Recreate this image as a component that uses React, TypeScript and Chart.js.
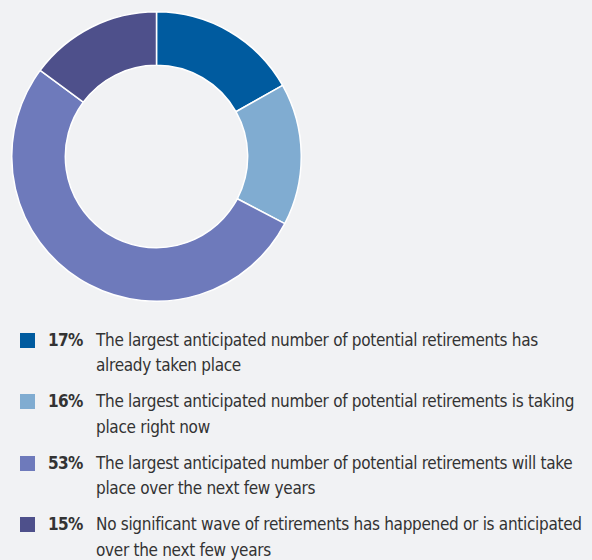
import React, { useEffect, useRef } from "react";
import { Chart, registerables } from "chart.js";

Chart.register(...registerables);

const categoryLines = [
  ["The largest anticipated number of potential retirements has", "already taken place"],
  ["The largest anticipated number of potential retirements is taking", "place right now"],
  ["The largest anticipated number of potential retirements will take", "place over the next few years"],
  ["No significant wave of retirements has happened or is anticipated", "over the next few years"],
];
const categories = categoryLines.map((l) => l.join(" "));
const values = [17, 16, 53, 15];
const percentLabels = ["17%", "16%", "53%", "15%"];
const colors = ["#005b9f", "#80acd1", "#6e7abb", "#4e508b"];

const FONT = '"DejaVu Sans Condensed", "DejaVu Sans", sans-serif';

export default function App() {
  const canvasRef = useRef<HTMLCanvasElement | null>(null);

  useEffect(() => {
    if (!canvasRef.current) return;
    const chart = new Chart(canvasRef.current, {
      type: "doughnut",
      data: {
        labels: categories,
        datasets: [
          {
            data: values,
            backgroundColor: colors,
            borderColor: "#ffffff",
            borderWidth: 1.5,
            hoverOffset: 0,
          },
        ],
      },
      options: {
        responsive: false,
        maintainAspectRatio: false,
        animation: false,
        cutout: "63%",
        layout: { padding: 0 },
        plugins: {
          legend: { display: false },
          tooltip: { enabled: false },
          title: { display: false },
        },
      },
    });
    return () => chart.destroy();
  }, []);

  return (
    <div
      style={{
        position: "fixed",
        left: 0,
        top: 0,
        width: 592,
        height: 560,
        background: "#f1f2f4",
        overflow: "hidden",
        fontFamily: FONT,
        fontStretch: "condensed",
        color: "#333333",
      }}
    >
      <div style={{ position: "absolute", left: 11, top: 11, width: 291, height: 291 }}>
        <canvas ref={canvasRef} width={291} height={291} style={{ width: 291, height: 291 }} />
      </div>
      {categoryLines.map((lines, i) => (
        <div
          key={i}
          style={{
            position: "absolute",
            left: 0,
            top: 327.5 + i * 61.6,
            width: 592,
            height: 52,
          }}
        >
          <div
            style={{
              position: "absolute",
              left: 20,
              top: 5,
              width: 15,
              height: 15,
              background: colors[i],
            }}
          />
          <div
            style={{
              position: "absolute",
              left: 48,
              top: 0,
              fontWeight: "bold",
              fontSize: 17,
              letterSpacing: "-0.6px",
              lineHeight: "25.5px",
              whiteSpace: "nowrap",
            }}
          >
            {percentLabels[i]}
          </div>
          <div
            style={{
              position: "absolute",
              left: 96,
              top: 0,
              fontSize: 17,
              letterSpacing: "-0.3px",
              lineHeight: "25.5px",
              whiteSpace: "nowrap",
            }}
          >
            {lines.map((ln, j) => (
              <div key={j}>{ln}</div>
            ))}
          </div>
        </div>
      ))}
    </div>
  );
}
